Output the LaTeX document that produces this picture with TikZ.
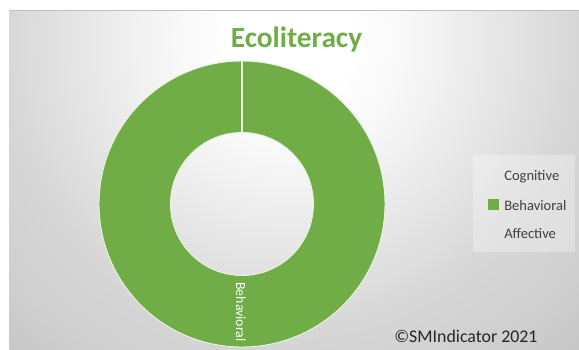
\documentclass[tikz,border=0pt]{standalone}
\usepackage{fontspec}
\setmainfont{Carlito}
\definecolor{ringgreen}{HTML}{70AD47}
\definecolor{textgrey}{HTML}{404040}
\definecolor{sa}{gray}{0.97}
\definecolor{sb}{gray}{0.91}
\definecolor{sc}{gray}{0.84}
\definecolor{sd}{gray}{0.82}
\definecolor{se}{gray}{0.77}
\pgfdeclareradialshading{panelshade}{\pgfpoint{0bp}{0bp}}{
  color(0bp)=(white); color(3.4bp)=(white); color(6.8bp)=(sa); color(11.35bp)=(sb); color(16.5bp)=(sc); color(19.9bp)=(sd); color(25bp)=(se); color(50bp)=(se)}
\begin{document}
\begin{tikzpicture}[x=0.75pt,y=-0.75pt,
  legendtext/.style={text=textgrey,font=\fontsize{10.9pt}{12pt}\selectfont,anchor=west,inner sep=0pt},
  ringpart/.style={fill=ringgreen,draw=white!85!ringgreen,line width=0.7pt}]
\useasboundingbox (0,0) rectangle (579,350);
\fill[white] (0,0) rectangle (579,350);
\begin{scope}
\clip (9,10) rectangle (579,350);
\node[circle,minimum size=880*0.75pt,inner sep=0pt,shading=panelshade,anchor=center] (panel) at (290,40) {};
\end{scope}
\draw[black!25,line width=0.6pt] (9,10.3) -- (579,10.3);
% ring
\coordinate (ringc) at (242,204);
\path[ringpart,even odd rule] (ringc) circle[radius=143] (ringc) circle[radius=71.5];
\coordinate (seamtop) at (242,61);
\coordinate (seambot) at (242,132.5);
\draw[white!85!ringgreen,line width=0.9pt] (seamtop) -- (seambot);
\node[text=ringgreen,font=\bfseries\fontsize{22pt}{26pt}\selectfont,inner sep=0pt] (title) at (296.5,39.5) {Ecoliteracy};
\node[rotate=-90,text=white,font=\fontsize{10.4pt}{12pt}\selectfont,inner sep=0pt] (seglabel) at (241,312) {Behavioral};
% legend
\fill[white,fill opacity=0.3] (473,155) rectangle (575,252);
\node[legendtext] (lg1) at (504,177) {Cognitive};
\node[legendtext] (lg2) at (504,205.5) {Behavioral};
\node[legendtext] (lg3) at (504,234) {Affective};
\fill[ringgreen] (488,199) rectangle (498.5,209.5);
\node[text=black!85,font=\fontsize{13.4pt}{16pt}\selectfont,anchor=west,inner sep=0pt] (credit) at (394,336) {©SMIndicator 2021};
\end{tikzpicture}
\end{document}
